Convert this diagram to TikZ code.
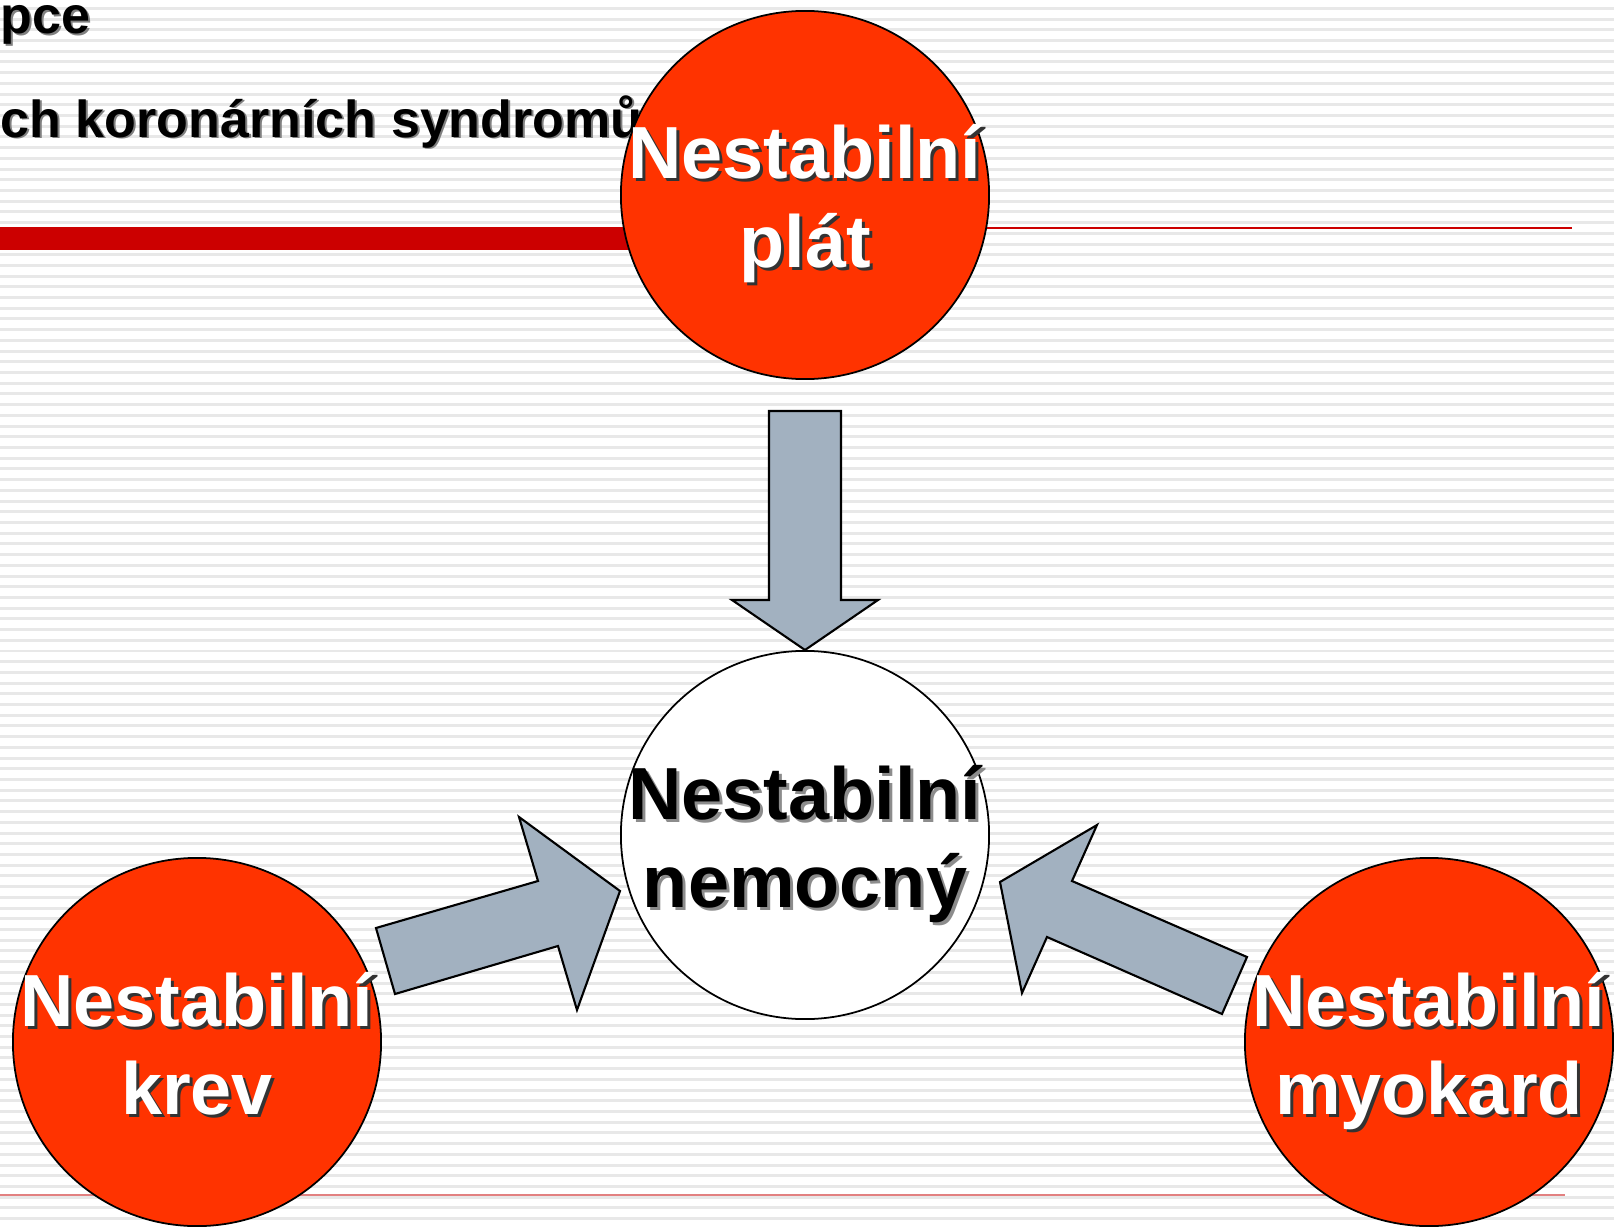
\documentclass[tikz,border=0pt]{standalone}
\usepackage{fontspec}
\setmainfont{Liberation Sans}
\usepackage{tikz}
\usetikzlibrary{calc}

\definecolor{platred}{RGB}{255,51,0}
\definecolor{barred}{RGB}{204,0,0}
\definecolor{linered}{RGB}{226,128,128}
\definecolor{arrowgray}{RGB}{162,177,192}

\tikzset{
  stripe/.style={gray!18, line width=0.85pt},
  disc/.style={circle, draw=black, line width=0.5pt, minimum size=3.68cm, inner sep=0pt},
  word/.style={font=\bfseries\fontsize{21}{25}\selectfont, inner sep=0pt, anchor=base},
  head/.style={font=\bfseries\fontsize{14.8}{18}\selectfont, inner sep=0pt, anchor=base west},
  shade/.style={text=black!50},
  bigarrow/.style={draw=black, line width=0.6pt, fill=arrowgray, line join=miter}
}

\begin{document}
\begin{tikzpicture}[x=0.01cm, y=-0.01cm]
\useasboundingbox (0,0) rectangle (1614,1227);
\fill[white] (0,0) rectangle (1614,1227);
\foreach \k in {0,...,113}
  \draw[stripe] (0,{8.4+10.71*\k}) -- (1614,{8.4+10.71*\k});

% title lines
\fill[barred] (0,227) rectangle (700,250);
\draw[barred, line width=0.6pt] (0,228) -- (1572,228);
\draw[linered, line width=0.6pt] (0,1195) -- (1565,1195);

\node[head, shade] (t1s) at (2,35) {pce};
\node[head] (t1) at (0,33) {pce};
\node[head, shade] (t2s) at (2,139) {ch koronárních syndromů};
\node[head] (t2) at (0,137) {ch koronárních syndromů};

% circles
\node[disc, fill=platred] (plat) at (805,195) {};
\node[disc, fill=white] (nemocny) at (805,835) {};
\node[disc, fill=platred] (krev) at (197,1042) {};
\node[disc, fill=platred] (myokard) at (1429,1042) {};

% arrows
\draw[bigarrow] (769,411) -- (841,411) -- (841,600) -- (878,600) -- (805,650)
  -- (732,600) -- (769,600) -- cycle;
\draw[bigarrow] (376,928) -- (538,881) -- (519,817) -- (620,891) -- (577,1010)
  -- (558,946) -- (395,994) -- cycle;
\draw[bigarrow] (1247,957) -- (1222,1014) -- (1047,937) -- (1022,993) -- (1000,882)
  -- (1097,825) -- (1072,881) -- cycle;

% labels
\foreach \n/\a/\b/\c/\s in {plat/Nestabilní/plát/white/black!80,
    nemocny/Nestabilní/nemocný/black/black!45,
    krev/Nestabilní/krev/white/black!80, myokard/Nestabilní/myokard/white/black!80} {
  \node[word, text=\s] (\n-as) at ($(\n)+(3,-13)$) {\a};
  \node[word, text=\s] (\n-bs) at ($(\n)+(3,75)$) {\b};
  \node[word, text=\c] (\n-a) at ($(\n)+(0,-16)$) {\a};
  \node[word, text=\c] (\n-b) at ($(\n)+(0,72)$) {\b};
}
\end{tikzpicture}
\end{document}
